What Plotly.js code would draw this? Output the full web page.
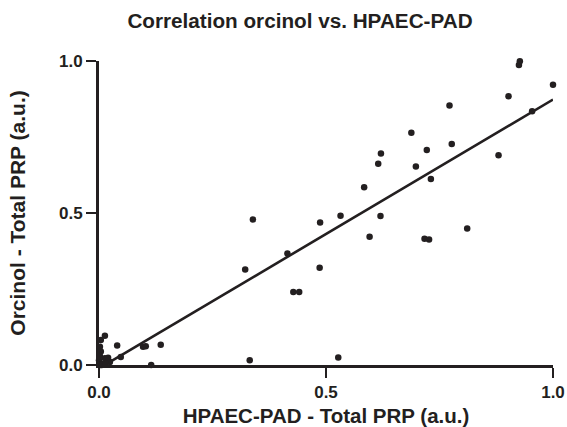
<!DOCTYPE html>
<html>
<head>
<meta charset="utf-8">
<script src="https://cdn.plot.ly/plotly-3.0.1.min.js"></script>
<style>html,body{margin:0;padding:0;background:#fff;}#chart{width:567px;height:427px;}</style>
</head>
<body>
<div id="chart"></div>
<script>
const hpaecX = [0.000,0.003,0.008,0.006,0.013,0.020,0.024,0.020,0.014,0.002,0.004,0.004,0.013,0.002,
  0.040,0.048,0.097,0.103,0.115,0.136,0.322,0.332,0.339,0.415,0.428,0.441,0.486,0.487,0.527,0.532,
  0.584,0.596,0.615,0.620,0.621,0.688,0.698,0.717,0.727,0.722,0.731,0.772,0.777,0.811,0.880,0.902,
  0.925,0.927,0.954,1.000];
const orcinolY = [0.016,0.000,0.003,0.000,0.022,0.014,0.010,0.024,0.005,0.060,0.044,0.082,0.096,0.030,
  0.064,0.026,0.060,0.062,0.000,0.067,0.314,0.016,0.479,0.367,0.240,0.240,0.320,0.469,0.025,0.491,
  0.585,0.422,0.662,0.490,0.696,0.764,0.653,0.415,0.413,0.707,0.612,0.854,0.727,0.449,0.690,0.884,
  0.987,0.999,0.835,0.922];
const fitX = [0.015, 1.0];
const fitY = [0.002, 0.873];
const xTicks = [0, 0.5, 1.0];
const xTickLabels = ['0.0', '0.5', '1.0'];
const yTicks = [0, 0.5, 1.0];
const yTickLabels = ['0.0', '0.5', '1.0'];

const font = 'Liberation Sans, Arial, sans-serif';
const ink = '#231f20';

const traces = [
  {x: fitX, y: fitY, mode: 'lines', line: {color: ink, width: 2.6}, cliponaxis: false, hoverinfo: 'skip'},
  {x: hpaecX, y: orcinolY, mode: 'markers', marker: {color: ink, size: 6.5}, cliponaxis: false}
];

const axisCommon = {
  range: [0, 1], showgrid: false, zeroline: false, showline: true, linecolor: ink, linewidth: 3,
  ticks: 'outside', ticklen: 10, tickwidth: 2.5, tickcolor: ink,
  tickfont: {family: font, size: 17, color: ink, weight: 'bold'},
  tickmode: 'array', automargin: false
};

const layout = {
  width: 567, height: 427,
  margin: {l: 99, r: 14, t: 61, b: 62},
  paper_bgcolor: '#fff', plot_bgcolor: '#fff',
  showlegend: false,
  title: {text: 'Correlation orcinol vs. HPAEC-PAD', font: {family: font, size: 20.7, color: ink, weight: 'bold'},
    xref: 'container', yref: 'container', x: 300/567, y: 1 - 21/427, xanchor: 'center', yanchor: 'middle'},
  xaxis: Object.assign({}, axisCommon, {tickvals: xTicks, ticktext: xTickLabels,
    title: {text: 'HPAEC-PAD - Total PRP (a.u.)', font: {family: font, size: 20.5, color: ink, weight: 'bold'}, standoff: 8}}),
  yaxis: Object.assign({}, axisCommon, {tickvals: yTicks, ticktext: yTickLabels,
    title: {text: 'Orcinol - Total PRP (a.u.)', font: {family: font, size: 21, color: ink, weight: 'bold'}, standoff: 28}})
};

Plotly.newPlot('chart', traces, layout, {displayModeBar: false, staticPlot: true});
</script>
</body>
</html>
